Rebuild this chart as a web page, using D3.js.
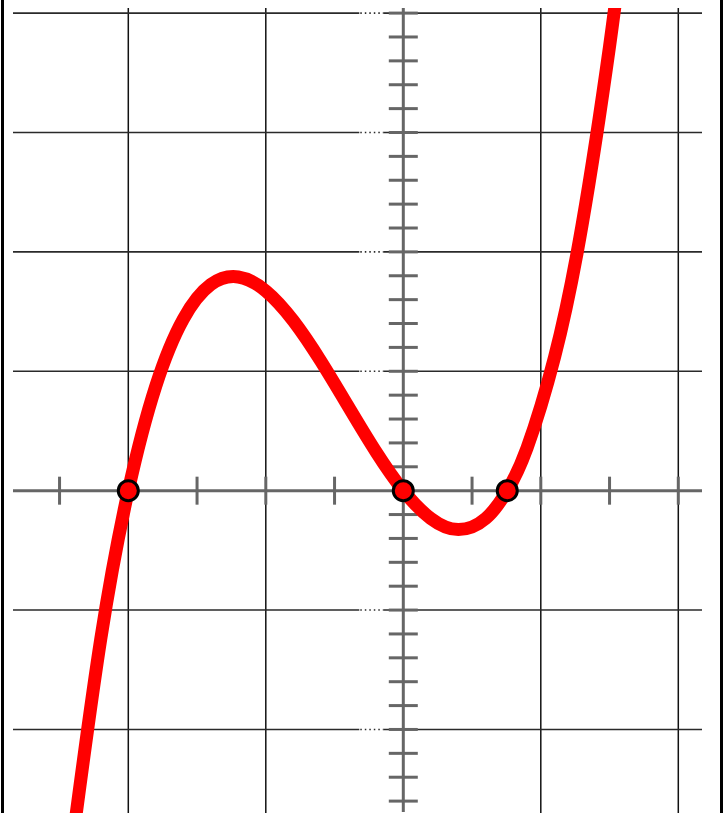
<!DOCTYPE html>
<html>
<head>
<meta charset="utf-8">
<script src="https://cdn.jsdelivr.net/npm/d3@7"></script>
<style>
  html, body { margin: 0; padding: 0; background: #fff; }
  svg { display: block; }
</style>
</head>
<body>
<svg id="chart" width="723" height="813"></svg>
<script>
// ---- data ----
const curveX = [-2.4, -2.2, -2.0, -1.8, -1.6, -1.4, -1.2, -1.0, -0.8, -0.6, -0.4, -0.2, 0.0, 0.2, 0.4, 0.6, 0.756, 0.9, 1.1, 1.3, 1.5, 1.6];
const curveY = [-2.89, -1.24, 0.0, 0.877, 1.437, 1.726, 1.79, 1.673, 1.423, 1.085, 0.705, 0.328, 0.0, -0.233, -0.326, -0.232, 0.0, 0.358, 1.118, 2.224, 3.722, 4.633];
const rootX = [-2.0, 0.0, 0.756];
const rootY = [0, 0, 0];
const xGridValues = [-2, -1, 1, 2];
const yGridValues = [-2, -1, 1, 2, 3, 4];
const xTickValues = [-2.5, -2.0, -1.5, -1.0, -0.5, 0.5, 1.0, 1.5, 2.0];
const yTickValues = [-2.6, -2.4, -2.2, -2.0, -1.8, -1.6, -1.4, -1.2, -1.0, -0.8, -0.6, -0.4, -0.2,
                     0.2, 0.4, 0.6, 0.8, 1.0, 1.2, 1.4, 1.6, 1.8, 2.0, 2.2, 2.4, 2.6, 2.8, 3.0,
                     3.2, 3.4, 3.6, 3.8, 4.0];

const W = 723, H = 813;
const svg = d3.select("#chart");

const x = d3.scaleLinear().domain([-2.5, 2]).range([59.55, 678.3]);
const y = d3.scaleLinear().domain([-2.6, 4]).range([801.1, 13.1]);

const plotLeft = 13, plotRight = 702, plotTop = 8, plotBottom = H;

// frame borders
svg.append("line").attr("x1", 2.5).attr("x2", 2.5).attr("y1", 0).attr("y2", H)
  .attr("stroke", "#000").attr("stroke-width", 3);
svg.append("line").attr("x1", 721.5).attr("x2", 721.5).attr("y1", 0).attr("y2", H)
  .attr("stroke", "#000").attr("stroke-width", 3);

// vertical grid lines
svg.append("g").selectAll("line").data(xGridValues).join("line")
  .attr("x1", d => x(d)).attr("x2", d => x(d))
  .attr("y1", plotTop).attr("y2", plotBottom)
  .attr("stroke", "#111").attr("stroke-width", 1.5);

// horizontal grid lines (with a dotted piece just left of the y-axis)
const x0 = x(0);
const hg = svg.append("g");
hg.selectAll("line.a").data(yGridValues).join("line").attr("class", "a")
  .attr("x1", plotLeft).attr("x2", x0 - 44)
  .attr("y1", d => y(d)).attr("y2", d => y(d))
  .attr("stroke", "#2a2a2a").attr("stroke-width", 1.6);
hg.selectAll("line.b").data(yGridValues).join("line").attr("class", "b")
  .attr("x1", x0 - 43).attr("x2", x0 - 20)
  .attr("y1", d => y(d)).attr("y2", d => y(d))
  .attr("stroke", "#2a2a2a").attr("stroke-width", 1.6)
  .attr("stroke-dasharray", "1.5,3");
hg.selectAll("line.c").data(yGridValues).join("line").attr("class", "c")
  .attr("x1", x0 - 20).attr("x2", plotRight)
  .attr("y1", d => y(d)).attr("y2", d => y(d))
  .attr("stroke", "#2a2a2a").attr("stroke-width", 1.6);

// axes
const axisColor = "#666";
svg.append("line").attr("x1", plotLeft).attr("x2", plotRight)
  .attr("y1", y(0)).attr("y2", y(0))
  .attr("stroke", axisColor).attr("stroke-width", 3);
svg.append("line").attr("x1", x0).attr("x2", x0)
  .attr("y1", plotTop).attr("y2", 812)
  .attr("stroke", axisColor).attr("stroke-width", 3);

// x ticks
svg.append("g").selectAll("line").data(xTickValues).join("line")
  .attr("x1", d => x(d)).attr("x2", d => x(d))
  .attr("y1", y(0) - 14).attr("y2", y(0) + 14)
  .attr("stroke", axisColor).attr("stroke-width", 3);

// y ticks
svg.append("g").selectAll("line").data(yTickValues).join("line")
  .attr("x1", x0 - 14.5).attr("x2", x0 + 14.5)
  .attr("y1", d => y(d)).attr("y2", d => y(d))
  .attr("stroke", axisColor).attr("stroke-width", 3);

// clip for the curve
svg.append("defs").append("clipPath").attr("id", "clip")
  .append("rect").attr("x", 4).attr("y", plotTop).attr("width", 716).attr("height", H - plotTop);

const pts = curveX.map((d, i) => [d, curveY[i]]);
const line = d3.line().x(d => x(d[0])).y(d => y(d[1])).curve(d3.curveNatural);

svg.append("path").datum(pts)
  .attr("clip-path", "url(#clip)")
  .attr("d", line)
  .attr("fill", "none")
  .attr("stroke", "#ff0000")
  .attr("stroke-width", 13)
  .attr("stroke-linejoin", "round");

// root points
svg.append("g").selectAll("circle").data(rootX.map((d, i) => [d, rootY[i]])).join("circle")
  .attr("cx", d => x(d[0])).attr("cy", d => y(d[1]))
  .attr("r", 10)
  .attr("fill", "#ff0000")
  .attr("stroke", "#000")
  .attr("stroke-width", 3);
</script>
</body>
</html>
